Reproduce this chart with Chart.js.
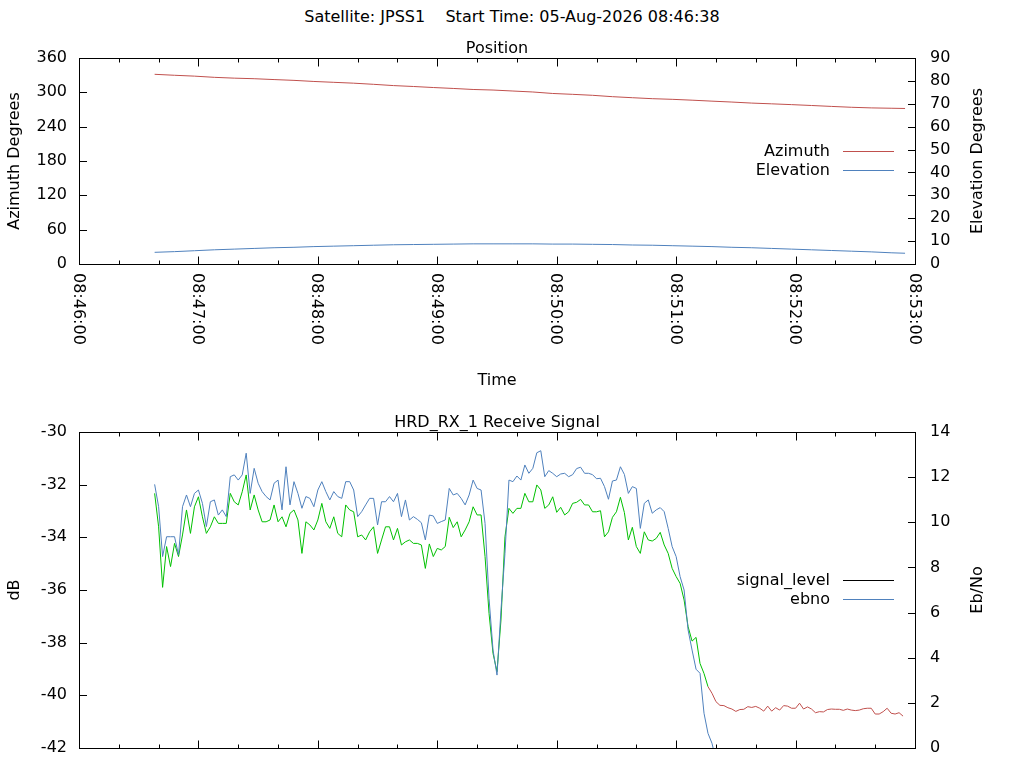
<!DOCTYPE html>
<html>
<head>
<meta charset="utf-8">
<script src="https://cdn.jsdelivr.net/npm/chart.js@4.4.1/dist/chart.umd.min.js"></script>
<style>
  html, body { margin: 0; padding: 0; background: #fff; }
  body { width: 1024px; height: 768px; position: relative; overflow: hidden; font-family: "DejaVu Sans", sans-serif; }
  #suptitle { position: absolute; left: 0; top: 7px; width: 1024px; text-align: center; font-size: 16px; line-height: 20px; color: #000; white-space: pre; }
  canvas { position: absolute; left: 0; }
  #position { top: 30px; }
  #signal { top: 400px; }
</style>
</head>
<body>
<div id="suptitle">Satellite: JPSS1    Start Time: 05-Aug-2026 08:46:38</div>
<canvas id="position" width="994" height="370"></canvas>
<canvas id="signal" width="994" height="373"></canvas>
<script>
const FONT = '"DejaVu Sans", sans-serif';
const RED = '#c0504d', BLUE = '#4f81bd', GREEN = '#00c000';

// x axis is seconds after 08:46:00
const X_MIN = 0, X_MAX = 420, X_MAJOR = 60, X_MINOR = 20;
const timeTicks = ['08:46:00', '08:47:00', '08:48:00', '08:49:00', '08:50:00', '08:51:00', '08:52:00', '08:53:00'];

// antenna position, one sample every 10 s
const posSeconds = [38, 48, 58, 68, 78, 88, 98, 108, 118, 128, 138, 148, 158, 168, 178, 188, 198, 208, 218, 228,
  238, 248, 258, 268, 278, 288, 298, 308, 318, 328, 338, 348, 358, 368, 378, 388, 398, 408, 415];
const azimuth = [331.5, 329.8, 328.3, 326.2, 324.8, 323.8, 322.3, 320.9, 319.0, 317.5, 316.0, 314.0, 311.8, 310.2,
  308.4, 306.8, 305.0, 304.0, 302.3, 300.6, 298.0, 296.5, 294.8, 292.4, 290.6, 288.9, 287.8, 286.3, 284.6, 283.0,
  281.2, 279.9, 278.5, 277.0, 275.4, 273.9, 272.8, 272.2, 271.8];
const elevation = [5.1, 5.4, 5.8, 6.2, 6.5, 6.8, 7.1, 7.3, 7.6, 7.8, 8.0, 8.2, 8.4, 8.5, 8.6, 8.7, 8.8, 8.8, 8.8, 8.8,
  8.7, 8.7, 8.6, 8.5, 8.3, 8.2, 8.0, 7.8, 7.6, 7.3, 7.1, 6.8, 6.5, 6.2, 5.9, 5.6, 5.3, 4.9, 4.7];

// receiver samples, every 2 s from 08:46:38
const signalStart = 38, signalStep = 2;
const lockLostSec = 316; // line turns red after this
const signalLevel = [
  -32.33, -33.60, -35.90, -34.35, -35.11, -34.23, -34.73, -33.91, -32.96, -33.85,
  -32.84, -32.46, -33.22, -33.85, -33.60, -33.22, -33.47, -33.47, -33.47, -32.33,
  -32.65, -32.77, -32.27, -31.63, -32.96, -32.39, -32.96, -33.41, -33.41, -33.34,
  -32.77, -33.41, -33.22, -33.60, -33.09, -32.96, -33.34, -34.61, -33.41, -33.53,
  -33.72, -33.34, -32.71, -33.41, -33.66, -33.22, -33.85, -33.98, -32.77, -32.96,
  -33.03, -33.98, -33.91, -34.10, -33.79, -33.60, -34.61, -34.10, -33.60, -33.60,
  -34.10, -33.66,
  -34.29, -34.17, -34.10, -34.23, -34.23, -34.29, -35.18, -34.25, -34.73, -34.42,
  -34.48, -34.35, -33.24, -33.63, -33.41, -33.98, -33.72, -33.41, -32.84, -33.15,
  -33.15, -34.73, -36.89, -38.41, -39.10, -37.14, -33.98, -32.90, -33.09, -32.90,
  -32.90, -32.33, -32.65, -32.65, -32.01, -32.20, -32.90, -32.77, -32.46, -33.05,
  -32.86, -33.15, -33.03, -32.71, -32.67, -32.56, -32.77, -32.77, -33.03, -33.03,
  -32.99, -33.98, -33.79, -33.24, -33.03, -32.48, -33.06, -34.10, -33.62, -34.35,
  -34.61, -33.79, -34.10,
  -34.14, -34.04, -33.81, -34.29, -34.61, -35.18, -35.49, -35.75, -36.38, -37.39,
  -37.94, -37.80, -38.79, -39.17, -39.67, -39.92,
  -40.24, -40.38, -40.39, -40.47, -40.52, -40.61, -40.54, -40.53, -40.43, -40.46,
  -40.42, -40.49, -40.60, -40.41, -40.60, -40.47, -40.56, -40.39, -40.41, -40.49,
  -40.49, -40.30, -40.52, -40.44, -40.52, -40.66, -40.62, -40.63, -40.54, -40.52,
  -40.53, -40.53, -40.57, -40.52, -40.56, -40.58, -40.56, -40.51, -40.49, -40.49,
  -40.71, -40.71, -40.62, -40.49, -40.68, -40.71, -40.66, -40.79];
const ebno = [
  11.68, 10.69, 8.48, 9.36, 9.36, 9.36, 8.55, 10.69, 11.21, 10.69,
  11.28, 11.43, 10.84, 9.81, 10.91, 10.99, 10.32, 10.55, 10.25, 12.02,
  12.10, 11.87, 12.10, 13.06, 11.28, 12.39, 11.73, 11.36, 11.14, 10.99,
  11.73, 11.87, 10.55, 12.46, 10.77, 11.80, 11.28, 10.62, 11.14, 11.06,
  10.69, 11.43, 11.80, 11.36, 10.99, 11.36, 11.14, 11.06, 11.80, 11.80,
  11.43, 10.25, 10.47, 10.77, 11.06, 11.06, 9.88, 10.91, 10.91, 11.14,
  10.91, 11.28,
  10.25, 10.99, 10.10, 10.25, 10.13, 9.98, 9.22, 10.32, 10.28, 9.95,
  10.03, 10.10, 11.50, 11.21, 11.28, 11.06, 10.77, 11.21, 11.87, 11.50,
  11.43, 9.95, 6.63, 4.34, 3.23, 6.11, 8.62, 11.87, 11.80, 12.05,
  11.87, 12.54, 12.17, 12.39, 13.08, 13.17, 12.02, 12.29, 12.17, 12.02,
  12.14, 12.17, 12.02, 12.11, 12.38, 12.44, 12.17, 12.17, 12.11, 11.93,
  11.95, 11.58, 11.02, 11.83, 11.87, 12.46, 12.12, 11.28, 11.58, 11.50,
  9.73, 10.84, 10.99,
  10.40, 10.55, 10.65, 10.47, 9.73, 8.92, 8.48, 7.59, 7.00, 5.23,
  4.34, 3.49, 3.31, 1.54, 0.65, 0.21, -0.53];

const pts = (xs, ys) => ys.map((v, i) => ({ x: xs[i], y: v }));
const sigPts = ys => ys.map((v, i) => ({ x: signalStart + i * signalStep, y: v }));

// gnuplot look: box, inward ticks, rotated labels, titles and key
function gnuplotFrame(cfg) {
  return {
    id: 'gnuplotFrame',
    afterDraw(chart) {
      const ctx = chart.ctx, a = chart.chartArea, xs = chart.scales.x;
      const yL = chart.scales[cfg.left], yR = chart.scales[cfg.right];
      const off = cfg.top;
      ctx.save();
      ctx.strokeStyle = '#000';
      ctx.lineWidth = 1;
      ctx.beginPath();
      for (let s = X_MIN; s <= X_MAX; s += X_MINOR) {
        const px = Math.round(xs.getPixelForValue(s)) + 0.5;
        const len = s % X_MAJOR === 0 ? 8 : 4;
        ctx.moveTo(px, a.bottom + 0.5); ctx.lineTo(px, a.bottom + 0.5 - len);
        ctx.moveTo(px, a.top + 0.5); ctx.lineTo(px, a.top + 0.5 + len);
      }
      yL.ticks.forEach(t => {
        const py = Math.round(yL.getPixelForValue(t.value)) + 0.5;
        ctx.moveTo(a.left, py); ctx.lineTo(a.left + 8, py);
      });
      yR.ticks.forEach(t => {
        const py = Math.round(yR.getPixelForValue(t.value)) + 0.5;
        ctx.moveTo(a.right + 1, py); ctx.lineTo(a.right - 7, py);
      });
      ctx.stroke();
      ctx.strokeRect(a.left + 0.5, a.top + 0.5, a.right - a.left, a.bottom - a.top);

      ctx.fillStyle = '#000';
      ctx.font = '16px ' + FONT;
      ctx.textBaseline = 'alphabetic';
      ctx.textAlign = 'center';
      const cx = (a.left + a.right) / 2, cy = (a.top + a.bottom) / 2;
      ctx.fillText(cfg.title, cx, cfg.titleBase - off);
      if (cfg.xTitle) ctx.fillText(cfg.xTitle, cx, cfg.xTitleBase - off);
      [[cfg.leftTitle, 19], [cfg.rightTitle, 982]].forEach(([txt, bx]) => {
        ctx.save();
        ctx.translate(bx, cy);
        ctx.rotate(-Math.PI / 2);
        ctx.fillText(txt, 0, 0);
        ctx.restore();
      });
      if (cfg.xLabels) {
        ctx.textAlign = 'left';
        timeTicks.forEach((lab, i) => {
          const px = xs.getPixelForValue(X_MIN + i * X_MAJOR);
          ctx.save();
          ctx.translate(px - 5.5, a.bottom + 9);
          ctx.rotate(Math.PI / 2);
          ctx.fillText(lab, 0, 0);
          ctx.restore();
        });
      }
      // key, top right inside the box
      ctx.textAlign = 'right';
      chart.data.datasets.forEach((ds, k) => {
        const base = cfg.keyBase - off + k * 19;
        ctx.fillText(ds.label, 830, base);
        ctx.strokeStyle = ds.keyColor || ds.borderColor;
        ctx.beginPath();
        ctx.moveTo(843, base - 4.5);
        ctx.lineTo(894, base - 4.5);
        ctx.stroke();
      });
      ctx.restore();
    }
  };
}

function yAxis(position, min, max, step) {
  return {
    position, min, max,
    ticks: { stepSize: step, autoSkip: false, padding: position === 'left' ? 12 : 15, color: '#000', font: { family: 'DejaVu Sans', size: 16 } },
    grid: { display: false, drawTicks: false },
    border: { display: false },
    afterFit: s => { s.width = 79; }
  };
}

function xAxis(height) {
  return {
    type: 'linear', min: X_MIN, max: X_MAX,
    ticks: { display: false },
    grid: { display: false, drawTicks: false },
    border: { display: false },
    afterFit: s => { s.height = height; }
  };
}

const common = {
  responsive: false,
  animation: false,
  events: [],
  elements: { point: { radius: 0 }, line: { borderWidth: 1, tension: 0 } },
  plugins: { legend: { display: false }, title: { display: false }, tooltip: { enabled: false } }
};

new Chart(document.getElementById('position'), {
  type: 'line',
  data: {
    datasets: [
      { label: 'Azimuth', data: pts(posSeconds, azimuth), yAxisID: 'yAz', borderColor: RED },
      { label: 'Elevation', data: pts(posSeconds, elevation), yAxisID: 'yEl', borderColor: BLUE }
    ]
  },
  options: Object.assign({}, common, {
    layout: { padding: { top: 28 } },
    scales: { x: xAxis(136), yAz: yAxis('left', 0, 360, 60), yEl: yAxis('right', 0, 90, 10) }
  }),
  plugins: [gnuplotFrame({
    top: 30, left: 'yAz', right: 'yEl',
    title: 'Position', titleBase: 52.5,
    xTitle: 'Time', xTitleBase: 385, xLabels: true,
    leftTitle: 'Azimuth Degrees', rightTitle: 'Elevation Degrees',
    keyBase: 156
  })]
});

// this canvas runs past the window bottom so the plot box ends at y=748
new Chart(document.getElementById('signal'), {
  type: 'line',
  data: {
    datasets: [
      {
        label: 'signal_level', data: sigPts(signalLevel), yAxisID: 'yDb', borderColor: GREEN, keyColor: '#000', order: 1,
        segment: { borderColor: c => c.p0.parsed.x >= lockLostSec ? RED : undefined }
      },
      { label: 'ebno', data: sigPts(ebno), yAxisID: 'yEbno', borderColor: BLUE, order: 0, clip: 0 }
    ]
  },
  options: Object.assign({}, common, {
    layout: { padding: { top: 32 } },
    scales: { x: xAxis(25), yDb: yAxis('left', -42, -30, 2), yEbno: yAxis('right', 0, 14, 2) }
  }),
  plugins: [gnuplotFrame({
    top: 400, left: 'yDb', right: 'yEbno',
    title: 'HRD_RX_1 Receive Signal', titleBase: 426.5,
    xLabels: false,
    leftTitle: 'dB', rightTitle: 'Eb/No',
    keyBase: 585
  })]
});
</script>
</body>
</html>
